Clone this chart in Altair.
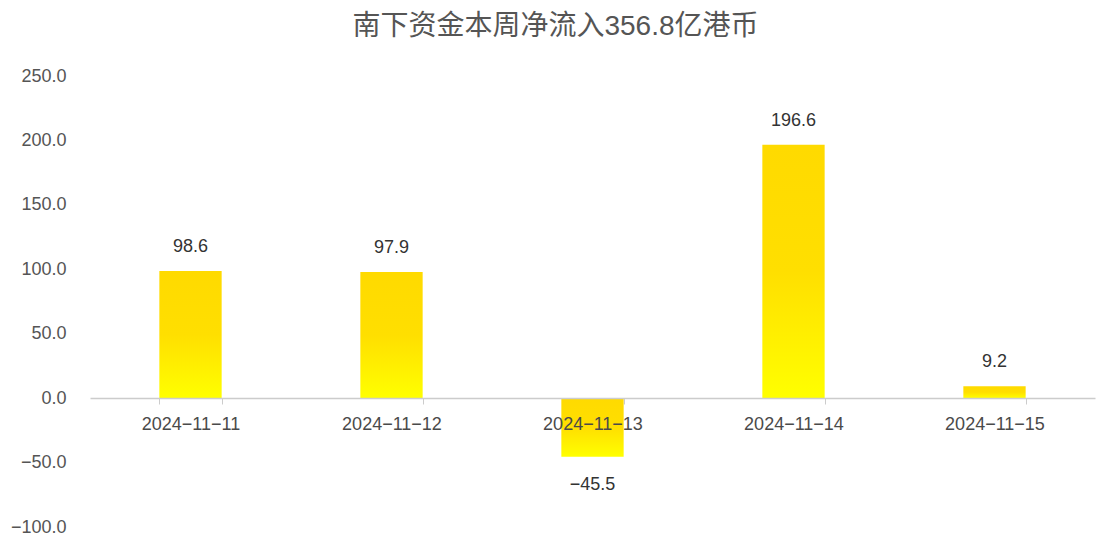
import altair as alt
import pandas as pd

dates = ["2024-11-11", "2024-11-12", "2024-11-13", "2024-11-14", "2024-11-15"]
values = [98.6, 97.9, -45.5, 196.6, 9.2]
y_ticks = [-100, -50, 0, 50, 100, 150, 200, 250]
title_text = "南下资金本周净流入356.8亿港币"

df = pd.DataFrame({"date": dates, "value": values})
df["label"] = df["value"].map(lambda v: f"{v:.1f}".replace("-", "−"))

W, H = 1005, 451
FONT = "Liberation Sans, Noto Sans CJK SC, sans-serif"

x_enc = alt.X("date:N", sort=dates, title=None,
              scale=alt.Scale(paddingInner=0.69, paddingOuter=0.345),
              axis=alt.Axis(offset=-129, domainColor="#cccccc", domainWidth=1.5,
                            tickColor="#cccccc", tickSize=6, tickBand="extent",
                            labelFontSize=18, labelColor="#4a4a4a", labelFont=FONT,
                            labelPadding=11, labelAngle=0, zindex=1,
                            labelExpr="replace(datum.label, regexp('-', 'g'), '−')"))
y_scale = alt.Scale(domain=[-100, 250], nice=False, zero=False)
y_enc = alt.Y("value:Q", title=None, scale=y_scale,
              axis=alt.Axis(values=y_ticks, format=".1f", grid=False, domain=False, ticks=False,
                            labelFontSize=18, labelColor="#555555", labelFont=FONT,
                            labelPadding=24,
                            labelExpr="replace(datum.label, '-', '−')"))

grad = alt.Gradient(gradient="linear",
                    stops=[alt.GradientStop(color="#FFDA00", offset=0),
                           alt.GradientStop(color="#FFDF00", offset=0.5),
                           alt.GradientStop(color="#FFFF00", offset=1)],
                    x1=0, x2=0, y1=0, y2=1)

bars = alt.Chart(df).mark_bar(color=grad).encode(
    x=x_enc, y=y_enc, y2=alt.datum(0)
)

txt_pos = alt.Chart(df[df["value"] >= 0]).mark_text(
    dy=-24, fontSize=18, color="#333333", font=FONT
).encode(x=alt.X("date:N", sort=dates), y=alt.Y("value:Q", scale=y_scale), text="label:N")

txt_neg = alt.Chart(df[df["value"] < 0]).mark_text(
    dy=28, fontSize=18, color="#333333", font=FONT
).encode(x=alt.X("date:N", sort=dates), y=alt.Y("value:Q", scale=y_scale), text="label:N")

chart = alt.layer(bars, txt_pos, txt_neg).properties(
    width=W, height=H,
    title=alt.TitleParams(title_text, fontSize=28, color="#555555", font=FONT,
                          fontWeight="normal", anchor="middle", dx=-37, offset=26),
    autosize=alt.AutoSizeParams(type="none"),
    padding={"left": 82, "top": 68, "right": 13, "bottom": 16},
).configure(background="white").configure_view(stroke=None)

chart.save("out.html", embed_options={"renderer": "svg", "actions": False})
